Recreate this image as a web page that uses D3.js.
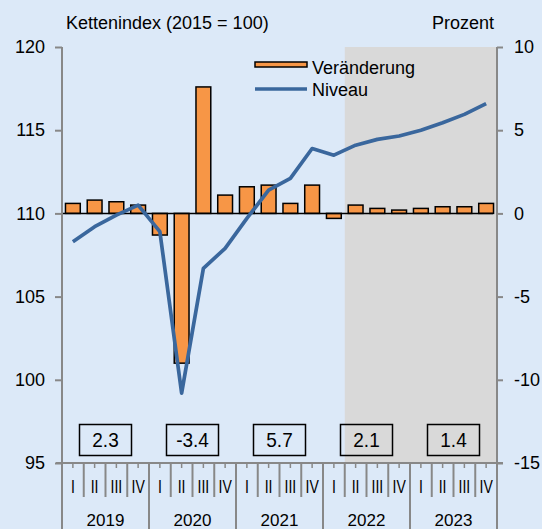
<!DOCTYPE html>
<html>
<head>
<meta charset="utf-8">
<script src="https://cdn.jsdelivr.net/npm/d3@7"></script>
<style>
  body { margin: 0; background: #dce9f8; }
  svg { display: block; font-family: "Liberation Sans", Arial, sans-serif; }
</style>
</head>
<body>
<svg id="chart" width="542" height="529"></svg>
<script>
// Vierteljährliche Werte 2019 Q1 - 2023 Q4
const years = ["2019", "2020", "2021", "2022", "2023"];
const quarterNames = ["I", "II", "III", "IV"];
const veraenderung = [0.6, 0.8, 0.7, 0.5, -1.3, -9.0, 7.6, 1.1, 1.6, 1.7, 0.6, 1.7,
                      -0.3, 0.5, 0.3, 0.2, 0.3, 0.4, 0.4, 0.6];
const niveau = [108.3, 109.2, 109.9, 110.5, 108.9, 99.2, 106.7, 107.9, 109.7, 111.4, 112.1, 113.9,
                113.5, 114.1, 114.45, 114.65, 115.0, 115.45, 115.95, 116.6];
const jahreswerte = ["2.3", "-3.4", "5.7", "2.1", "1.4"];
const prognoseStart = 13; // ab 2022 Q2 grau hinterlegt
const leftTicks = [95, 100, 105, 110, 115, 120];
const rightTicks = [-15, -10, -5, 0, 5, 10];

const svg = d3.select("#chart");
const pLeft = 62, pRight = 497, pTop = 47, pBottom = 463;
const n = veraenderung.length;

const x = d3.scaleBand().domain(d3.range(n)).range([pLeft, pRight]).padding(0);
const yL = d3.scaleLinear().domain([95, 120]).range([pBottom, pTop]);
const yR = d3.scaleLinear().domain([-15, 10]).range([pBottom, pTop]);
const bw = x.bandwidth();

// grey forecast area
svg.append("rect")
    .attr("x", x(prognoseStart)).attr("y", pTop)
    .attr("width", pRight - x(prognoseStart)).attr("height", pBottom - pTop)
    .attr("fill", "#d9d9d9");

// bars
svg.selectAll(".bar")
    .data(veraenderung)
    .enter().append("rect")
    .attr("class", "bar")
    .attr("x", (d, i) => x(i) + bw * 0.16)
    .attr("width", bw * 0.68)
    .attr("y", d => yR(Math.max(0, d)))
    .attr("height", d => Math.abs(yR(d) - yR(0)))
    .attr("fill", "#f79646")
    .attr("stroke", "#000")
    .attr("stroke-width", 1.5);

// zero line
svg.append("line")
    .attr("x1", pLeft).attr("x2", pRight - 4)
    .attr("y1", yR(0)).attr("y2", yR(0))
    .attr("stroke", "#000").attr("stroke-width", 1.5);

// line
const line = d3.line()
    .x((d, i) => x(i) + bw / 2)
    .y(d => yL(d));
svg.append("path")
    .datum(niveau)
    .attr("d", line)
    .attr("fill", "none")
    .attr("stroke", "#3a679d")
    .attr("stroke-width", 3.7)
    .attr("stroke-linejoin", "round");

// axes
const axL = svg.append("g")
    .attr("transform", `translate(${pLeft},0)`)
    .call(d3.axisLeft(yL).tickValues(leftTicks).tickFormat(d => String(d))
        .tickSize(7).tickSizeOuter(0).tickPadding(10));
const axR = svg.append("g")
    .attr("transform", `translate(${pRight},0)`)
    .call(d3.axisRight(yR).tickValues(rightTicks).tickFormat(d => String(d))
        .tickSize(6).tickSizeOuter(0).tickPadding(11));
[axL, axR].forEach(g => {
    g.select(".domain").remove();
    g.selectAll(".tick line").attr("stroke", "#888").attr("stroke-width", 2);
    g.selectAll(".tick text").attr("font-size", 18).attr("fill", "#000")
        .attr("font-family", "Liberation Sans, Arial, sans-serif");
});
svg.append("line").attr("x1", pLeft).attr("x2", pLeft).attr("y1", pTop).attr("y2", 529)
    .attr("stroke", "#888").attr("stroke-width", 2);
svg.append("line").attr("x1", pRight).attr("x2", pRight).attr("y1", pTop).attr("y2", 529)
    .attr("stroke", "#888").attr("stroke-width", 2);

// x axis
svg.append("line").attr("x1", 56).attr("x2", 503).attr("y1", pBottom).attr("y2", pBottom)
    .attr("stroke", "#888").attr("stroke-width", 2);
const qIdx = d3.range(n);
svg.selectAll(".qtick")
    .data(qIdx.filter(i => i % 4 !== 0))
    .enter().append("line")
    .attr("x1", i => x(i)).attr("x2", i => x(i))
    .attr("y1", pBottom).attr("y2", 497)
    .attr("stroke", "#888").attr("stroke-width", 2);
svg.selectAll(".ytick")
    .data(qIdx.filter(i => i % 4 === 0 && i > 0))
    .enter().append("line")
    .attr("x1", i => x(i)).attr("x2", i => x(i))
    .attr("y1", pBottom).attr("y2", 529)
    .attr("stroke", "#888").attr("stroke-width", 2);
svg.selectAll(".mtick")
    .data(qIdx)
    .enter().append("line")
    .attr("x1", i => x(i) + bw / 2).attr("x2", i => x(i) + bw / 2)
    .attr("y1", pBottom).attr("y2", pBottom + 5)
    .attr("stroke", "#888").attr("stroke-width", 1.5);

svg.selectAll(".qlabel")
    .data(qIdx)
    .enter().append("text")
    .attr("transform", i => `translate(${x(i) + bw / 2},493) scale(0.78,1)`)
    .attr("text-anchor", "middle")
    .attr("font-size", 18)
    .text(i => quarterNames[i % 4]);

const yearW = bw * 4;
svg.selectAll(".ylabel")
    .data(years)
    .enter().append("text")
    .attr("x", (d, i) => pLeft + yearW * (i + 0.5))
    .attr("y", 526)
    .attr("text-anchor", "middle")
    .attr("font-size", 17)
    .text(d => d);

// annual boxes
const box = svg.selectAll(".box")
    .data(jahreswerte)
    .enter().append("g")
    .attr("transform", (d, i) => `translate(${pLeft + yearW * (i + 0.5)},440)`);
box.append("rect")
    .attr("x", -26).attr("y", -15.5).attr("width", 52).attr("height", 31)
    .attr("fill", "none").attr("stroke", "#000").attr("stroke-width", 1.5);
box.append("text")
    .attr("transform", "translate(0,7) scale(0.95,1)")
    .attr("text-anchor", "middle")
    .attr("font-size", 20)
    .text(d => d);

// titles
svg.append("text").attr("x", 66).attr("y", 29).attr("font-size", 18).text("Kettenindex (2015 = 100)");
svg.append("text").attr("x", 494).attr("y", 29).attr("text-anchor", "end").attr("font-size", 18).text("Prozent");

// legend
svg.append("rect").attr("x", 255).attr("y", 62).attr("width", 52).attr("height", 5)
    .attr("fill", "#f79646").attr("stroke", "#000").attr("stroke-width", 1.5);
svg.append("text").attr("x", 312).attr("y", 74).attr("font-size", 18).text("Veränderung");
svg.append("line").attr("x1", 255).attr("x2", 307).attr("y1", 89).attr("y2", 89)
    .attr("stroke", "#3a679d").attr("stroke-width", 3.7);
svg.append("text").attr("x", 312).attr("y", 96).attr("font-size", 18).text("Niveau");
</script>
</body>
</html>
